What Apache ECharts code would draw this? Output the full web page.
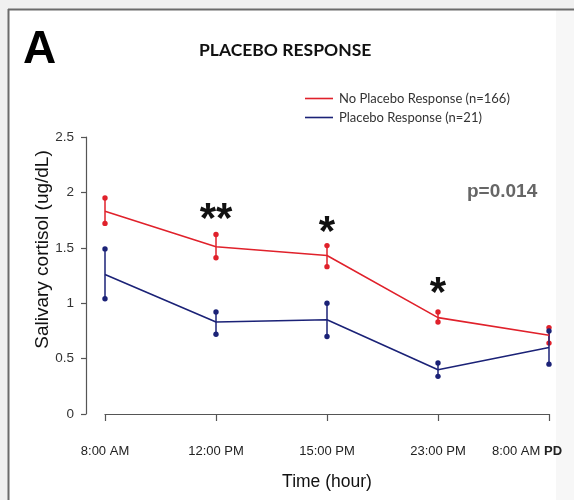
<!DOCTYPE html>
<html>
<head>
<meta charset="utf-8">
<script src="https://cdn.jsdelivr.net/npm/echarts@6/dist/echarts.min.js"></script>
<style>
    html, body { margin: 0; padding: 0; background: #f0f0f0; }
    #chart { width: 574px; height: 500px; }
</style>
</head>
<body>
<div id="chart"></div>
<script>
(function () {
    'use strict';

    // time points (x axis)
    var times = ['8:00 AM', '12:00 PM', '15:00 PM', '23:00 PM', '8:00 AM PD'];

    // No placebo response (n=166): mean and error bar ends
    var noMean = [1.83, 1.51, 1.43, 0.87, 0.71];
    var noLow = [1.72, 1.41, 1.33, 0.83, 0.64];
    var noHigh = [1.95, 1.62, 1.52, 0.92, 0.78];

    // Placebo response (n=21)
    var plMean = [1.26, 0.83, 0.85, 0.40, 0.60];
    var plLow = [1.04, 0.72, 0.70, 0.34, 0.45];
    var plHigh = [1.49, 0.92, 1.00, 0.46, 0.75];

    // significance marks and the level they sit at
    var sigLabels = ['', '**', '*', '*', ''];
    var sigLevel = [0, 1.75, 1.63, 1.08, 0];

    var RED = '#e0212b';
    var BLUE = '#1b2277';
    var AXIS = '#555555';

    function errorBars(low, high, color) {
        return {
            type: 'custom',
            silent: true,
            data: times.map(function (t, i) { return [i, low[i], high[i]]; }),
            renderItem: function (params, api) {
                var i = api.value(0);
                var lo = api.coord([i, api.value(1)]);
                var hi = api.coord([i, api.value(2)]);
                return {
                    type: 'group',
                    children: [
                        {type: 'line', shape: {x1: lo[0], y1: lo[1], x2: hi[0], y2: hi[1]},
                            style: {stroke: color, lineWidth: 1.5}},
                        {type: 'circle', shape: {cx: lo[0], cy: lo[1], r: 2.7}, style: {fill: color}},
                        {type: 'circle', shape: {cx: hi[0], cy: hi[1], r: 2.7}, style: {fill: color}}
                    ]
                };
            }
        };
    }

    var myChart = echarts.init(document.getElementById('chart'));

    myChart.setOption({
        animation: false,
        backgroundColor: '#f0f0f0',
        graphic: [
            // white panel with a border on top and left only
            {type: 'rect', shape: {x: 8, y: 9, width: 548, height: 491},
                style: {fill: '#ffffff'}, z: -10},
            {type: 'rect', shape: {x: 556, y: 10, width: 18, height: 490},
                style: {fill: '#f7f7f7'}, z: -9},
            {type: 'line', shape: {x1: 8, y1: 9.5, x2: 574, y2: 9.5},
                style: {stroke: '#6b6b6b', lineWidth: 2}, z: -8},
            {type: 'line', shape: {x1: 8.5, y1: 9, x2: 8.5, y2: 500},
                style: {stroke: '#6b6b6b', lineWidth: 2}, z: -8},
            {type: 'text', left: 23, top: 27,
                style: {text: 'A', font: 'bold 46px "Liberation Sans", Arial', fill: '#000'}},
            {type: 'text', left: 199, top: 41,
                style: {text: 'PLACEBO RESPONSE', font: 'bold 17.5px Lato', fill: '#111'}},
            {type: 'text', left: 467, top: 182,
                style: {text: 'p=0.014', font: 'bold 19px "Liberation Sans", Arial', fill: '#666'}}
        ],
        legend: {
            orient: 'vertical',
            left: 300,
            top: 87,
            itemWidth: 28,
            itemHeight: 14,
            itemGap: 6,
            icon: 'path://M0,0H28V1.6H0Z',
            data: ['No Placebo Response (n=166)', 'Placebo Response (n=21)'],
            textStyle: {fontFamily: 'Lato', fontSize: 13, color: '#333', padding: [0, 0, 0, 1]}
        },
        grid: {left: 105, right: 25, top: 137, bottom: 86},
        xAxis: {
            type: 'category',
            data: times,
            boundaryGap: false,
            offset: 14,
            name: 'Time (hour)',
            nameLocation: 'middle',
            nameGap: 45,
            nameTextStyle: {fontFamily: 'Liberation Sans', fontSize: 17.5, color: '#111'},
            axisLine: {lineStyle: {color: AXIS, width: 1.2}},
            axisTick: {alignWithLabel: true, interval: 0, length: 7, lineStyle: {color: AXIS, width: 1.2}},
            axisLabel: {
                interval: 0,
                hideOverlap: false,
                margin: 17,
                fontFamily: 'Liberation Sans',
                fontSize: 13,
                color: '#222',
                formatter: function (v) {
                    if (v.slice(-3) === ' PD') {
                        return v.slice(0, -3) + ' {b|PD}';
                    }
                    return v;
                },
                rich: {b: {fontFamily: 'Liberation Sans', fontSize: 13, fontWeight: 'bold', color: '#222',
                    padding: [0, 44, 0, 0]}}
            },
            splitLine: {show: false}
        },
        yAxis: {
            type: 'value',
            min: 0,
            max: 2.5,
            interval: 0.5,
            offset: 19,
            name: 'Salivary cortisol (ug/dL)',
            nameLocation: 'middle',
            nameRotate: 90,
            nameGap: 34,
            nameMoveOverlap: false,
            nameTextStyle: {fontFamily: 'Liberation Sans', fontSize: 19, color: '#111',
                padding: [0, 0, 0, 52]},
            axisLine: {show: true, lineStyle: {color: AXIS, width: 1.2}},
            axisTick: {show: true, length: 5, lineStyle: {color: AXIS, width: 1.2}},
            axisLabel: {margin: 12, fontFamily: 'Liberation Sans', fontSize: 13.5, color: '#333'},
            splitLine: {show: false}
        },
        series: [
            {
                name: 'No Placebo Response (n=166)',
                type: 'line',
                data: noMean,
                symbol: 'none',
                color: RED,
                lineStyle: {color: RED, width: 1.6},
                z: 3
            },
            {
                name: 'Placebo Response (n=21)',
                type: 'line',
                data: plMean,
                symbol: 'none',
                color: BLUE,
                lineStyle: {color: BLUE, width: 1.6},
                z: 3
            },
            errorBars(noLow, noHigh, RED),
            errorBars(plLow, plHigh, BLUE),
            {
                type: 'custom',
                silent: true,
                data: times.map(function (t, i) { return [i, sigLevel[i]]; }),
                renderItem: function (params, api) {
                    var label = sigLabels[params.dataIndex];
                    if (!label) {
                        return null;
                    }
                    var p = api.coord([api.value(0), api.value(1)]);
                    return {
                        type: 'text',
                        x: p[0],
                        y: p[1],
                        style: {
                            text: label,
                            font: 'bold 42px "Liberation Sans", Arial',
                            fill: '#111',
                            align: 'center',
                            verticalAlign: 'middle'
                        }
                    };
                }
            }
        ]
    });
})();
</script>
</body>
</html>
